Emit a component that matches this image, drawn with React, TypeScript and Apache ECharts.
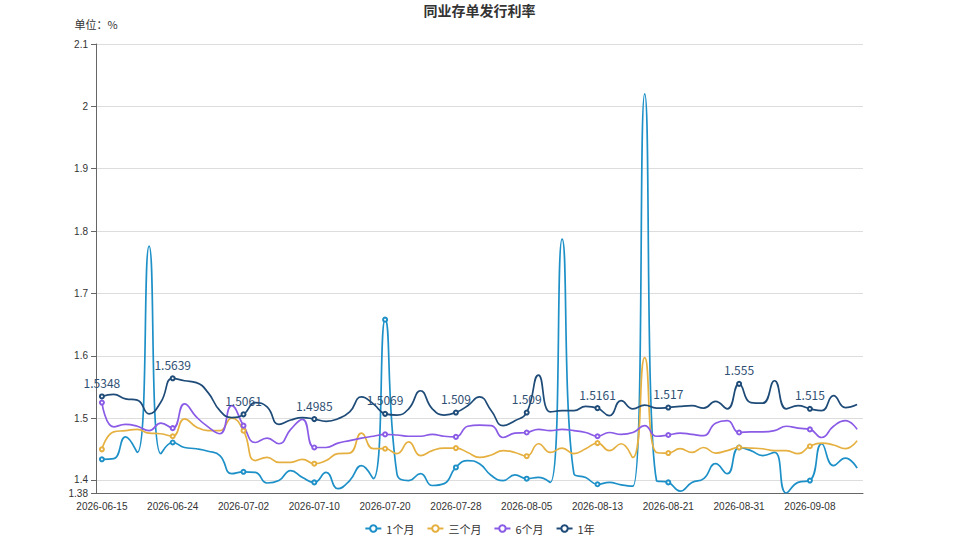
import React, { useEffect, useRef } from "react";
import * as echarts from "echarts";

const dates = [
  "2026-06-15","2026-06-16","2026-06-17","2026-06-18","2026-06-22","2026-06-23","2026-06-24","2026-06-25","2026-06-26","2026-06-29","2026-06-30",
  "2026-07-01","2026-07-02","2026-07-03","2026-07-06","2026-07-07","2026-07-08","2026-07-09","2026-07-10","2026-07-13","2026-07-14","2026-07-15",
  "2026-07-16","2026-07-17","2026-07-20","2026-07-21","2026-07-22","2026-07-23","2026-07-24","2026-07-27","2026-07-28","2026-07-29","2026-07-30",
  "2026-07-31","2026-08-03","2026-08-04","2026-08-05","2026-08-06","2026-08-07","2026-08-10","2026-08-11","2026-08-12","2026-08-13","2026-08-14",
  "2026-08-17","2026-08-18","2026-08-19","2026-08-20","2026-08-21","2026-08-24","2026-08-25","2026-08-26","2026-08-27","2026-08-28","2026-08-31",
  "2026-09-01","2026-09-02","2026-09-03","2026-09-04","2026-09-07","2026-09-08","2026-09-09","2026-09-10","2026-09-11","2026-09-14",
];

const m1 = [
  1.434,1.435,1.470,1.445,1.776,1.443,1.461,1.453,1.451,1.447,
  1.440,1.411,1.414,1.413,1.396,1.400,1.416,1.405,1.397,1.413,
  1.387,1.400,1.424,1.403,1.658,1.411,1.400,1.411,1.392,1.395,
  1.421,1.432,1.427,1.408,1.400,1.409,1.403,1.405,1.397,1.787,
  1.411,1.405,1.394,1.397,1.393,1.391,2.020,1.400,1.397,1.383,
  1.397,1.403,1.427,1.411,1.453,1.448,1.440,1.445,1.380,1.397,
  1.400,1.459,1.424,1.436,1.420,
];

const m3 = [
  1.450,1.478,1.480,1.482,1.476,1.475,1.471,1.499,1.486,1.480,
  1.480,1.500,1.480,1.432,1.437,1.429,1.429,1.434,1.427,1.432,
  1.443,1.444,1.476,1.451,1.451,1.443,1.462,1.440,1.448,1.452,
  1.452,1.445,1.437,1.441,1.448,1.445,1.439,1.459,1.445,1.452,
  1.443,1.451,1.460,1.448,1.459,1.437,1.597,1.445,1.444,1.451,
  1.445,1.453,1.444,1.448,1.453,1.452,1.451,1.448,1.448,1.443,
  1.455,1.460,1.457,1.451,1.464,
];

const m6 = [
  1.525,1.486,1.490,1.487,1.480,1.492,1.484,1.523,1.502,1.486,
  1.475,1.520,1.488,1.461,1.468,1.459,1.482,1.498,1.453,1.453,
  1.460,1.464,1.468,1.471,1.474,1.473,1.471,1.471,1.474,1.471,
  1.470,1.487,1.489,1.488,1.469,1.476,1.477,1.482,1.480,1.482,
  1.480,1.477,1.471,1.477,1.474,1.477,1.488,1.471,1.473,1.476,
  1.474,1.472,1.492,1.496,1.477,1.478,1.478,1.480,1.487,1.484,
  1.482,1.469,1.487,1.496,1.482,
];

const y1 = [
  1.5348,1.538,1.531,1.529,1.507,1.526,1.5639,1.560,1.557,1.541,
  1.512,1.501,1.5061,1.525,1.518,1.490,1.497,1.501,1.4985,1.495,
  1.499,1.510,1.534,1.523,1.5069,1.505,1.515,1.544,1.515,1.505,
  1.509,1.520,1.534,1.512,1.488,1.496,1.509,1.569,1.510,1.512,
  1.512,1.519,1.5161,1.504,1.528,1.515,1.521,1.516,1.517,1.519,
  1.520,1.516,1.527,1.515,1.555,1.525,1.524,1.560,1.515,1.520,
  1.515,1.512,1.536,1.517,1.522,
];

const seriesNames = ["1个月", "三个月", "6个月", "1年"];
const colors = ["#1e90c8", "#e6b040", "#8a5be6", "#1e4b78"];
const STEP = 6;
const Y_MIN = 1.38;
const Y_MAX = 2.1;
const NUM_FONT = "'Liberation Sans', Arial, sans-serif";

export default function App() {
  const ref = useRef<HTMLDivElement>(null);
  useEffect(() => {
    if (!ref.current) return;
    const chart = echarts.init(ref.current, undefined, { renderer: "svg" });
    const toItems = (arr: number[]) =>
      arr.map((v, i) => (i % STEP === 0 ? { value: v } : { value: v, symbol: "none" }));
    const all = [m1, m3, m6, y1];
    chart.setOption({
      animation: false,
      color: colors,
      textStyle: { fontFamily: "'Noto Sans CJK SC', 'Noto Sans', sans-serif" },
      title: {
        text: "同业存单发行利率",
        left: "center",
        top: -2,
        textStyle: { fontSize: 14, fontWeight: "bold", color: "#333" },
      },
      legend: {
        bottom: 0,
        left: "center",
        itemWidth: 16,
        itemHeight: 8,
        itemGap: 12,
        textStyle: { color: "#333", fontSize: 11 },
        data: seriesNames,
      },
      grid: { left: 96, right: 96, top: 44, bottom: 46, containLabel: false },
      xAxis: {
        type: "category",
        data: dates,
        boundaryGap: true,
        axisLine: { lineStyle: { color: "#666" } },
        axisTick: { interval: STEP - 1, lineStyle: { color: "#666" } },
        axisLabel: {
          interval: STEP - 1,
          color: "#333",
          fontSize: 10,
          fontFamily: NUM_FONT,
          lineHeight: 10,
        },
      },
      yAxis: {
        type: "value",
        name: "单位：%",
        nameTextStyle: { color: "#333", fontSize: 11 },
        min: Y_MIN,
        max: Y_MAX,
        axisLine: { show: true, lineStyle: { color: "#666" } },
        axisTick: { show: true, lineStyle: { color: "#666" } },
        axisLabel: {
          color: "#333",
          fontSize: 10,
          fontFamily: NUM_FONT,
          lineHeight: 10,
          formatter: (v: number) =>
            Math.abs(v - 1.4) < 1e-9 ? "{up|" + v + "}" : String(v),
          rich: {
            up: {
              fontSize: 10,
              color: "#333",
              fontFamily: NUM_FONT,
              lineHeight: 10,
              padding: [0, 0, 3, 0],
            },
          },
        },
        splitLine: { lineStyle: { color: "#ddd" } },
      },
      series: all.map((arr, k) => ({
        name: seriesNames[k],
        type: "line",
        smooth: true,
        symbol: "emptyCircle",
        symbolSize: 4,
        showAllSymbol: true,
        itemStyle: { borderWidth: 1 },
        lineStyle: { width: 1.7 },
        label:
          k === 3
            ? { show: true, position: "top", color: "#2f5073", fontSize: 12 }
            : { show: false },
        data: toItems(arr),
      })),
    });
    return () => chart.dispose();
  }, []);
  return (
    <div
      ref={ref}
      style={{ position: "absolute", left: 0, top: 0, width: 959, height: 539 }}
    />
  );
}
